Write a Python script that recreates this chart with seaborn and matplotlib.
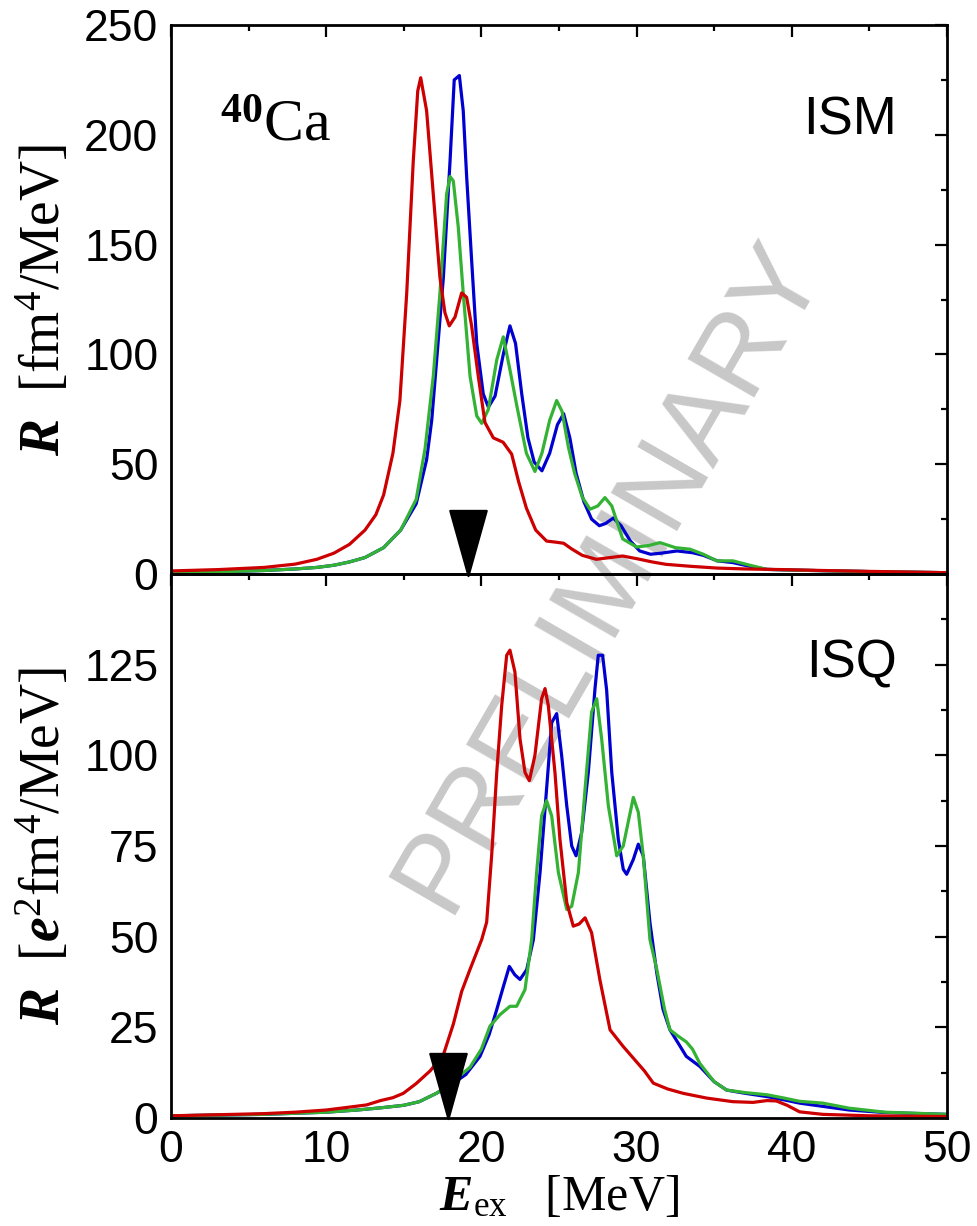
import numpy as np
import pandas as pd
import seaborn as sns
import matplotlib
matplotlib.use("Agg")
import matplotlib.pyplot as plt
from matplotlib.path import Path
from matplotlib.ticker import MultipleLocator

# ---- data ----
# top panel: ISM strength R [fm^4/MeV] vs E_ex [MeV]
ism_red_E = [0, 3, 6, 8, 9.4, 10.5, 11.5, 12.5, 13.2, 13.7, 14.3, 14.75, 15.19, 15.61, 15.9, 16.09,
             16.47, 16.9, 17.33, 17.65, 17.93, 18.3, 18.73, 19.05, 19.37, 19.8, 20.23, 20.77, 21.4,
             21.95, 22.4, 22.9, 23.5, 24.2, 24.8, 25.3, 25.8, 26.5, 27.4, 28.3, 29.1, 30.0, 31.0,
             31.9, 33.5, 35.2, 37.0, 39.5, 42, 45, 50]
ism_red_R = [1.4, 2, 3, 4.5, 6.7, 9.5, 13.5, 20, 27, 36, 55, 79, 128, 188, 220, 226,
             211, 173, 135, 119, 113, 117, 128, 126, 113, 90, 69, 62, 60,
             54.6, 42, 30, 20, 15, 14.5, 14, 11.5, 8.5, 6.7, 7.5, 8.2, 7, 5.5,
             4.4, 3.5, 2.7, 2.3, 2.0, 1.6, 1.2, 0.6]

ism_blue_E = [0, 3, 6, 8, 9.4, 10.5, 11.5, 12.5, 13.7, 14.8, 15.8, 16.47, 16.8, 17.12, 17.55,
              17.98, 18.25, 18.58, 18.83, 19.05, 19.37, 19.7, 20.12, 20.45, 20.88, 21.41, 21.84,
              22.2, 22.6, 23.0, 23.4, 23.9, 24.4, 24.9, 25.3, 25.7, 26.1, 26.6, 27.1, 27.6, 28.0,
              28.5, 29.0, 29.6, 30.2, 30.9, 31.6, 32.6, 33.6, 34.3, 35.2, 36.2, 37.3, 38.4, 40,
              42, 45, 50]
ism_blue_R = [0.8, 1, 1.6, 2.3, 3, 4, 5.5, 7.5, 12, 20, 32, 52, 70, 97.5, 135,
              188, 225, 227, 211, 181, 143, 105, 82, 76, 81, 100, 113,
              105, 82, 62, 51, 47, 55, 68, 73, 62, 46, 33, 25, 22, 23,
              25.5, 22, 15, 10.5, 9, 9.5, 10.5, 9.7, 8.5, 6, 5.2, 3.5, 2.1, 1.8,
              1.5, 1.1, 0.6]

ism_green_E = [0, 3, 6, 8, 9.4, 10.5, 11.5, 12.5, 13.7, 14.8, 15.8, 16.37, 16.9, 17.33, 17.76,
               17.98, 18.19, 18.51, 18.83, 19.27, 19.7, 20.02, 20.45, 20.99, 21.41, 21.84, 22.3,
               22.9, 23.45, 23.9, 24.4, 24.85, 25.2, 25.6, 26.0, 26.5, 27.0, 27.5, 27.96, 28.4,
               29.1, 30.0, 30.8, 31.5, 32.5, 33.44, 34.3, 35.16, 36.2, 37.3, 38.4, 40, 42, 45, 50]
ism_green_R = [0.8, 1, 1.6, 2.3, 3, 4, 5.5, 7.5, 12, 20, 34, 57, 90, 128, 173,
               181, 179, 158, 128, 90, 72, 68.6, 75, 97.5, 108, 93, 76,
               55, 46.7, 55, 70, 79, 74, 58, 46, 35, 29.5, 31, 34.8, 31,
               16, 12.3, 13, 14.3, 12, 11.3, 9, 6, 6, 4, 2.1, 1.8, 1.5, 1.1, 0.6]

# bottom panel: ISQ strength R [e^2 fm^4/MeV]
isq_red_E = [0, 3, 6, 8, 10, 11.5, 12.6, 13.5, 14.3, 14.97, 15.8, 16.7, 17.55, 18.2, 18.73,
             19.27, 20.02, 20.34, 20.66, 20.99, 21.31, 21.63, 21.84, 22.16, 22.49, 22.81, 23.09,
             23.45, 23.88, 24.1, 24.31, 24.74, 25.06, 25.5, 25.92, 26.3, 26.68, 27.1, 27.64,
             28.29, 29.14, 29.79, 30.5, 31.08, 32.0, 33.0, 34.5, 36.2, 37.5, 38.4, 39.0, 39.7,
             40.5, 42, 45, 50]
isq_red_R = [0.6, 0.9, 1.2, 1.6, 2.2, 3, 3.6, 4.8, 5.6, 6.8, 9.5, 13, 17.4, 26, 34.9,
             41, 49.2, 54, 72.3, 95.3, 113.8, 127.6, 129, 123, 104.5, 95.3, 93,
             100, 115.6, 118.4, 113.8, 95.3, 76.9, 59.4, 52.9, 53.5, 55.2, 51.1, 38,
             24.3, 19.7, 16.5, 13, 9.6, 8, 6.8, 5.5, 4.5, 4.3, 4.8, 4.7, 3.5,
             1.7, 1.0, 0.6, 0.4]

isq_blue_E = [0, 3, 6, 8, 10, 12, 13.5, 15, 16, 17.1, 18, 19, 19.91, 20.5, 20.99, 21.4, 21.8,
              22.15, 22.49, 22.92, 23.35, 23.78, 24.2, 24.53, 24.85, 25.17, 25.5, 25.82, 26.1,
              26.46, 26.89, 27.32, 27.53, 27.81, 28.07, 28.4, 28.82, 29.14, 29.36, 29.79, 30.11,
              30.43, 30.86, 31.3, 31.7, 32.15, 32.7, 33.2, 34.08, 35.0, 35.8, 37.0, 38.4, 39.5,
              40.5, 42, 43.7, 46, 50]
isq_blue_R = [0.6, 0.8, 1, 1.3, 1.6, 2.2, 2.8, 3.5, 4.5, 6.8, 9, 12, 17, 23, 29.9, 36, 41.8,
              39.5, 38.2, 40.9, 49.2, 67.7, 90.7, 109, 111.5, 100, 86.1, 75, 72.3,
              78.7, 95.3, 118.4, 127.6, 127.6, 118, 95.3, 76.9, 68.6, 67.2, 71.3, 75.5,
              72.3, 53.9, 40, 30, 24.3, 20.5, 17, 14.2, 10, 7.7, 6.8, 5.9, 5,
              4.1, 3.2, 2.2, 1.5, 1]

isq_green_E = [0, 3, 6, 8, 10, 12, 13.5, 15, 16, 17.1, 18, 19.27, 20.0, 20.55, 21.2, 21.84,
               22.27, 22.81, 23.24, 23.56, 23.88, 24.2, 24.53, 24.96, 25.5, 25.82, 26.25, 26.68,
               27.1, 27.43, 27.75, 28.18, 28.72, 29.14, 29.79, 30.11, 30.43, 30.86, 31.3, 31.8,
               32.15, 32.7, 33.2, 33.6, 34.08, 35.0, 35.8, 37.0, 38.4, 39.5, 40.5, 42, 43.7, 46, 50]
isq_green_R = [0.6, 0.8, 1, 1.3, 1.6, 2.2, 2.8, 3.5, 4.5, 6.8, 9.5, 14, 19, 25.3, 28.5, 30.8,
               30.8, 35.4, 49.2, 67.7, 83.3, 87.5, 83.3, 67.7, 57.5, 58.4, 67.7, 90.7,
               111.9, 115.6, 104.5, 86.1, 72.3, 75, 88.4, 84.3, 72.3, 49.2, 41, 30,
               24.3, 22.5, 21, 19, 15, 10, 7.7, 7, 6.4, 5.5, 4.6, 4.1, 2.7, 1.6, 1.0]

# black triangles (position of centroid energies)
arrow_E = [19.16, 17.83]
arrow_R = [14.3, 8.8]

calc_order = ["blue", "green", "red"]
calc_colors = {"red": "#cc0000", "blue": "#0000d0", "green": "#33b233"}


def to_long(E_lists, R_lists):
    frames = []
    for name, E, R in zip(["red", "blue", "green"], E_lists, R_lists):
        frames.append(pd.DataFrame({"E": E, "R": R, "calc": name}))
    return pd.concat(frames, ignore_index=True)


df_ism = to_long([ism_red_E, ism_blue_E, ism_green_E], [ism_red_R, ism_blue_R, ism_green_R])
df_isq = to_long([isq_red_E, isq_blue_E, isq_green_E], [isq_red_R, isq_blue_R, isq_green_R])

sns.set_style("white")
plt.rcParams["font.family"] = ["Liberation Sans", "DejaVu Sans"]
plt.rcParams["text.color"] = "black"
plt.rcParams["axes.labelcolor"] = "black"
plt.rcParams["xtick.color"] = "black"
plt.rcParams["ytick.color"] = "black"
plt.rcParams["mathtext.fontset"] = "custom"
plt.rcParams["mathtext.rm"] = "Liberation Serif"
plt.rcParams["mathtext.it"] = "Liberation Serif:italic"
plt.rcParams["mathtext.bf"] = "Liberation Serif:bold"
plt.rcParams["mathtext.bfit"] = "Liberation Serif:italic:bold"

fig = plt.figure(figsize=(9.77, 12.26), dpi=100)
ax1 = fig.add_axes([0.175, 0.5318, 0.7943, 0.4478])
ax2 = fig.add_axes([0.175, 0.0881, 0.7943, 0.4437])

tri = Path([(-0.28, 0.5), (0.28, 0.5), (0, -0.5), (-0.28, 0.5)],
           [Path.MOVETO, Path.LINETO, Path.LINETO, Path.CLOSEPOLY])

for ax, df, i in [(ax1, df_ism, 0), (ax2, df_isq, 1)]:
    ax.set_facecolor("none")
    sns.lineplot(data=df, x="E", y="R", hue="calc", hue_order=calc_order, palette=calc_colors,
                 estimator=None, sort=False, lw=2.3, legend=False, ax=ax)
    ax.plot([arrow_E[i]], [arrow_R[i]], marker=tri, markersize=47, color="black",
            markeredgewidth=1.5, linestyle="none", clip_on=False, zorder=5)
    ax.set_xlim(0, 50)
    ax.xaxis.set_major_locator(MultipleLocator(10))
    ax.xaxis.set_minor_locator(MultipleLocator(5))
    ax.tick_params(which="both", direction="in", top=True, right=True, width=1.6,
                   labelsize=32, pad=9, colors="black")
    ax.tick_params(which="major", length=8.5)
    ax.tick_params(which="minor", length=4.5)
    for s in ax.spines.values():
        s.set_linewidth(2.0)
        s.set_color("black")

ax1.set_ylim(0, 250)
ax1.yaxis.set_major_locator(MultipleLocator(50))
ax1.yaxis.set_minor_locator(MultipleLocator(25))
ax1.tick_params(labelbottom=False)
ax1.set_xlabel("")
ax1.set_ylabel(r"$\mathbfit{R}$  [fm$^4$/MeV]", fontsize=40, family="Liberation Serif")
ax1.yaxis.set_label_coords(-0.128, 0.5)

ax2.set_ylim(0, 150)
ax2.set_yticks([0, 25, 50, 75, 100, 125])
ax2.yaxis.set_minor_locator(MultipleLocator(12.5))
ax2.set_ylabel(r"$\mathbfit{R}$  [$\mathbfit{e}^2$fm$^4$/MeV]", fontsize=40, family="Liberation Serif")
ax2.yaxis.set_label_coords(-0.128, 0.5)
ax2.set_xlabel(r"$\mathbfit{E}_{\mathrm{ex}}$   [MeV]", fontsize=36, family="Liberation Serif",
               labelpad=2)

ax1.text(0.063, 0.79, r"$^{\mathbf{40}}$Ca", transform=ax1.transAxes, fontsize=43,
         family="Liberation Serif", ha="left", va="baseline")
ax1.text(0.936, 0.80, "ISM", transform=ax1.transAxes, fontsize=38, ha="right", va="baseline")
ax2.text(0.936, 0.81, "ISQ", transform=ax2.transAxes, fontsize=38, ha="right", va="baseline")

fig.text(0.624, 0.531, "PRELIMINARY", rotation=60, ha="center", va="center", fontsize=80,
         color="#c8c8c8", zorder=-1)

fig.savefig("out.png", dpi=100)
